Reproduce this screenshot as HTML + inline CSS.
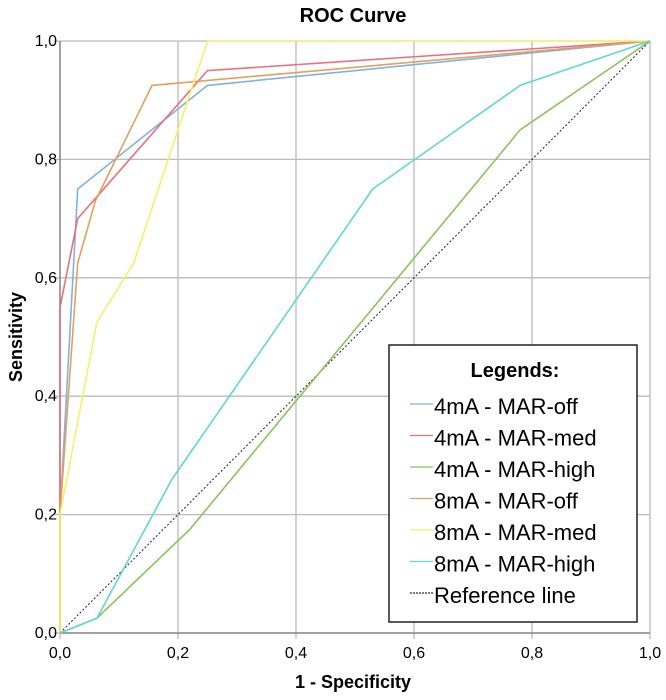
<!DOCTYPE html>
<html><head><meta charset="utf-8"><style>
body{margin:0;background:#fff;font-family:"Liberation Sans",sans-serif}
svg text{font-family:"Liberation Sans",sans-serif}
</style></head><body>
<svg id="c" width="666" height="695">
<text x="353" y="22" text-anchor="middle" font-size="20" font-weight="bold">ROC Curve</text>
<text x="353" y="688" text-anchor="middle" font-size="18" font-weight="bold">1 - Specificity</text>
<text transform="translate(22,337) rotate(-90)" text-anchor="middle" font-size="18" font-weight="bold">Sensitivity</text>
<g id="grid"></g><g id="series"></g>
<g>
<rect x="389" y="345" width="248" height="277" fill="#fff" stroke="#222" stroke-width="1.5"/>
<text x="515" y="377" text-anchor="middle" font-size="20" font-weight="bold">Legends:</text>
<g id="leg"></g></g>
</svg>
<script>
const seriesNames=["4mA - MAR-off","4mA - MAR-med","4mA - MAR-high","8mA - MAR-off","8mA - MAR-med","8mA - MAR-high"];
const colors=["#7fb2e0","#e8707a","#86c45e","#e2a05c","#f5f06a","#5fd6d6"];
const fprOff4=[0,0,0.03,0.25,1];const tprOff4=[0,0.2,0.75,0.925,1];
const fprMed4=[0,0,0.03,0.25,1];const tprMed4=[0,0.55,0.7,0.95,1];
const fprHigh4=[0,0.0625,0.22,0.78,1];const tprHigh4=[0,0.025,0.175,0.85,1];
const fprOff8=[0,0,0.03,0.06,0.156,1];const tprOff8=[0,0.2,0.625,0.73,0.925,1];
const fprMed8=[0,0,0.0625,0.125,0.25,1];const tprMed8=[0,0.2,0.525,0.625,1,1];
const fprHigh8=[0,0.0625,0.19,0.53,0.78,1];const tprHigh8=[0,0.025,0.26,0.75,0.925,1];
const ticks=[0,0.2,0.4,0.6,0.8,1.0];
const tickLabels=["0,0","0,2","0,4","0,6","0,8","1,0"];
const X0=60,X1=650,Y0=633,Y1=41;
const sx=v=>X0+v*(X1-X0), sy=v=>Y0-v*(Y0-Y1);
const NS="http://www.w3.org/2000/svg";
function mk(t,a,p){const e=document.createElementNS(NS,t);for(const k in a)e.setAttribute(k,a[k]);p.appendChild(e);return e;}
const g=document.getElementById('grid');
ticks.forEach((t,i)=>{
 const vl=mk('line',{x1:sx(t),x2:sx(t),y1:Y1,y2:Y0+6,stroke:'#bbb','stroke-width':1.3},g);
 
 
 const hl=mk('line',{x1:X0-6,x2:X1,y1:sy(t),y2:sy(t),stroke:'#bbb','stroke-width':1.3},g);
 
 
 const xt=mk('text',{x:sx(t),y:658,'text-anchor':'middle','font-size':16},g);xt.textContent=tickLabels[i];
 
 
 const yt=mk('text',{x:X0-3,y:sy(t)+5,'text-anchor':'end','font-size':16},g);yt.textContent=tickLabels[i];
 
 
});
const ax=mk('path',{d:`M${X0},${Y1}V${Y0}H${X1}`,stroke:'#888','stroke-width':1.5,fill:'none'},g);


const s=document.getElementById('series');
const rl=mk('line',{x1:sx(0),y1:sy(0),x2:sx(1),y2:sy(1),stroke:'#222','stroke-width':1,'stroke-dasharray':'2,2'},s);


const F=[fprOff4,fprMed4,fprHigh4,fprOff8,fprMed8,fprHigh8],T=[tprOff4,tprMed4,tprHigh4,tprOff8,tprMed8,tprHigh8];
F.forEach((f,i)=>{
 const pl=mk('polyline',{points:f.map((v,j)=>sx(v)+','+sy(T[i][j])).join(' '),fill:'none',stroke:colors[i],'stroke-width':1.6},s);
 
 
});
const L=document.getElementById('leg');
const names=seriesNames.concat(["Reference line"]);
names.forEach((n,i)=>{
 const y=406+i*31.5;
 const ln=mk('line',{x1:410,x2:433,y1:y-2,y2:y-2,stroke:i<6?colors[i]:'#333','stroke-width':1.3,'stroke-dasharray':i<6?'none':'2,1'},L);
 
 
 const t=mk('text',{x:434,y:y+8,'font-size':22},L);t.textContent=n;
 
 
});
</script>
</body></html>
